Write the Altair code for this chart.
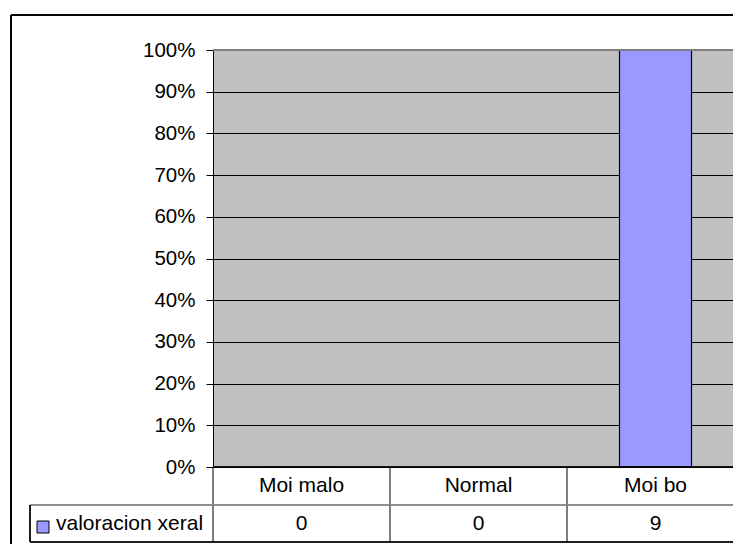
import altair as alt
import pandas as pd

categories = ["Moi malo", "Normal", "Moi bo"]
counts = [0, 0, 9]
shares = [0.0, 0.0, 1.0]
series_name = ["valoracion xeral"]
y_ticks = [0, 0.1, 0.2, 0.3, 0.4, 0.5, 0.6, 0.7, 0.8, 0.9, 1.0]

df = pd.DataFrame({"cat": categories, "count": counts, "share": shares})
leg = pd.DataFrame({"name": series_name})

FONT = "Liberation Sans"
FS = 21
FS_AX = 20.5
W, H = 520, 417
BAND_RANGE = 531

xs = alt.Scale(domain=categories, range=[0, BAND_RANGE], paddingInner=0, paddingOuter=0)

base = alt.Chart(df)

bars = base.mark_bar(size=72, color="#9999FF", stroke="black", strokeWidth=1.2).encode(
    x=alt.X("cat:N", scale=xs, axis=None, sort=categories),
    y=alt.Y("share:Q", scale=alt.Scale(domain=[0, 1], nice=False),
            axis=alt.Axis(values=y_ticks, format=".0%", title=None, grid=True,
                          gridColor="black", gridOpacity=1, gridWidth=1,
                          domainColor="black", domainWidth=1,
                          tickColor="black", tickSize=7, labelPadding=11,
                          labelFont=FONT, labelFontSize=FS_AX, labelColor="black")),
)

# top plot border (gray)
top_border = base.mark_rule(color="#808080", strokeWidth=1.5).encode(
    x=alt.value(0), x2=alt.value(BAND_RANGE), y=alt.value(0)
)
# axis line at 0%
zero_line = base.mark_rule(color="black", strokeWidth=1.2).encode(
    x=alt.value(0), x2=alt.value(BAND_RANGE), y=alt.value(H)
)

# data table
col_lines = base.mark_rule(color="black").encode(
    x=alt.X("cat:N", scale=xs, sort=categories, bandPosition=0),
    y=alt.value(H), y2=alt.value(H + 75),
)
row_mid = base.mark_rule(color="#808080", strokeWidth=1.2).encode(
    x=alt.value(-183), x2=alt.value(BAND_RANGE), y=alt.value(H + 38)
)
row_bot = base.mark_rule(color="black").encode(
    x=alt.value(-183), x2=alt.value(BAND_RANGE), y=alt.value(H + 75)
)
leg_left = base.mark_rule(color="black").encode(
    x=alt.value(-183), y=alt.value(H + 38), y2=alt.value(H + 75)
)

cat_text = base.mark_text(font=FONT, fontSize=FS, color="black", baseline="middle").encode(
    x=alt.X("cat:N", scale=xs, sort=categories, bandPosition=0.5),
    y=alt.value(H + 19),
    text="cat:N",
)
val_text = base.mark_text(font=FONT, fontSize=FS, color="black", baseline="middle").encode(
    x=alt.X("cat:N", scale=xs, sort=categories, bandPosition=0.5),
    y=alt.value(H + 57),
    text="count:Q",
)

leg_sq = alt.Chart(leg).mark_square(size=144, color="#9999FF", stroke="black",
                                    strokeWidth=1, opacity=1).encode(
    x=alt.value(-170), y=alt.value(H + 60)
)
leg_txt = alt.Chart(leg).mark_text(font=FONT, fontSize=FS, color="black",
                                   align="left", baseline="middle").encode(
    x=alt.value(-157), y=alt.value(H + 57), text="name:N"
)

# outer frame of chart
frame_left = base.mark_rule(color="black", strokeWidth=1.5).encode(
    x=alt.value(-202), y=alt.value(-35), y2=alt.value(H + 100)
)
frame_top = base.mark_rule(color="black", strokeWidth=1.5).encode(
    x=alt.value(-202), x2=alt.value(BAND_RANGE), y=alt.value(-35)
)

chart = alt.layer(
    bars, top_border, zero_line, col_lines, row_mid, row_bot, leg_left,
    cat_text, val_text, leg_sq, leg_txt, frame_left, frame_top
).properties(
    width=W, height=H,
    padding={"left": 205, "top": 42, "right": 0, "bottom": 77},
    autosize=alt.AutoSizeParams(type="none"),
    background="white",
).configure_view(fill="#C0C0C0", stroke=None)

chart.save("out.html", embed_options={"renderer": "svg", "actions": False})
